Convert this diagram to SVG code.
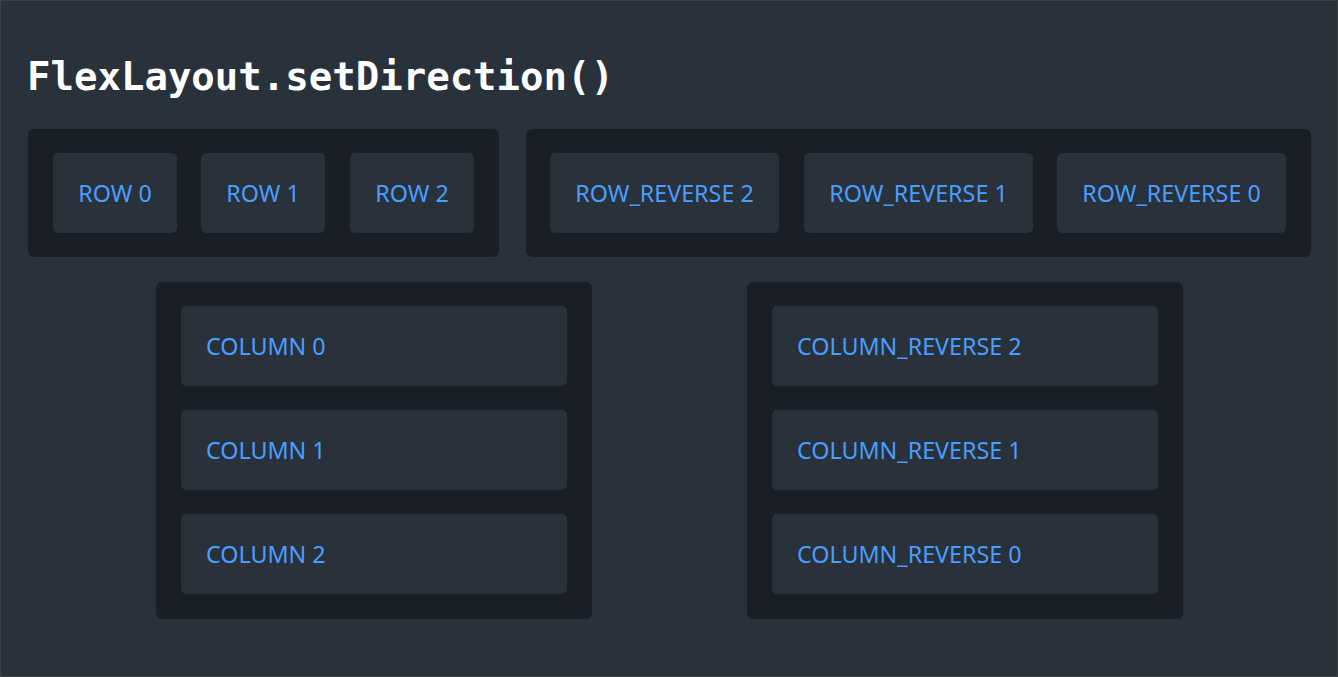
<svg xmlns="http://www.w3.org/2000/svg" width="1338" height="677" viewBox="0 0 1338 677">
<style>
.c{fill:#1a1e25}
.i{fill:#29313b}
.t{fill:#4a9eff;font-family:"Noto Sans","Open Sans",sans-serif;font-size:23.3px}
.m{text-anchor:middle}
</style>
<rect x="0.5" y="0.5" width="1337" height="676" fill="#29313b" stroke="#3d4148"/>
<text x="27" y="90" font-family="DejaVu Sans Mono,monospace" font-weight="bold" font-size="39" fill="#ffffff">FlexLayout.setDirection()</text>
<g id="row"><rect class="c" x="28" y="129" width="471" height="128" rx="6"/>
<rect class="i" x="53" y="153" width="124" height="80" rx="5"/><text class="t m" x="115" y="202">ROW 0</text>
<rect class="i" x="201" y="153" width="124" height="80" rx="5"/><text class="t m" x="263" y="202">ROW 1</text>
<rect class="i" x="350" y="153" width="124" height="80" rx="5"/><text class="t m" x="412" y="202">ROW 2</text></g>
<g id="rowrev"><rect class="c" x="526" y="129" width="785" height="128" rx="6"/>
<rect class="i" x="550" y="153" width="229" height="80" rx="5"/><text class="t m" x="664.5" y="202">ROW_REVERSE 2</text>
<rect class="i" x="804" y="153" width="229" height="80" rx="5"/><text class="t m" x="918.5" y="202">ROW_REVERSE 1</text>
<rect class="i" x="1057" y="153" width="229" height="80" rx="5"/><text class="t m" x="1171.5" y="202">ROW_REVERSE 0</text></g>
<g id="col"><rect class="c" x="156" y="282" width="436" height="337" rx="6"/>
<rect class="i" x="181" y="306" width="386" height="80" rx="5"/><text class="t" x="206" y="355">COLUMN 0</text>
<rect class="i" x="181" y="410" width="386" height="80" rx="5"/><text class="t" x="206" y="459">COLUMN 1</text>
<rect class="i" x="181" y="514" width="386" height="80" rx="5"/><text class="t" x="206" y="563">COLUMN 2</text></g>
<g id="colrev"><rect class="c" x="747" y="282" width="436" height="337" rx="6"/>
<rect class="i" x="772" y="306" width="386" height="80" rx="5"/><text class="t" x="797" y="355">COLUMN_REVERSE 2</text>
<rect class="i" x="772" y="410" width="386" height="80" rx="5"/><text class="t" x="797" y="459">COLUMN_REVERSE 1</text>
<rect class="i" x="772" y="514" width="386" height="80" rx="5"/><text class="t" x="797" y="563">COLUMN_REVERSE 0</text></g>
<g id="connectors"/>
</svg>
